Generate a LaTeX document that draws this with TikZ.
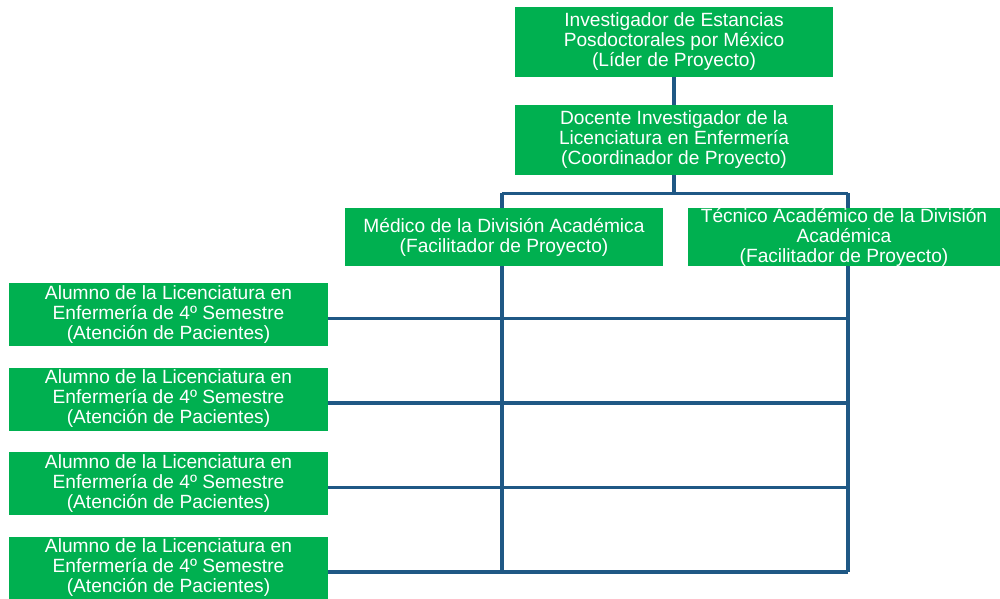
\documentclass[tikz,border=0pt]{standalone}
\usepackage{fontspec}
\setmainfont{Liberation Sans}
\usetikzlibrary{shapes,arrows,positioning,calc,backgrounds}
\definecolor{boxgreen}{RGB}{0,176,80}
\definecolor{linkblue}{RGB}{31,88,133}

\begin{document}
\begin{tikzpicture}[node distance=1.96cm, auto]
    \tikzstyle{role} = [rectangle, fill=boxgreen, text=white, align=center, inner sep=0pt, font=\fontsize{10.9}{11.4}\selectfont]
    \tikzstyle{head} = [role, minimum width=6.37cm, minimum height=1.40cm]
    \tikzstyle{facil} = [role, minimum height=1.16cm]
    \tikzstyle{student} = [role, minimum width=6.38cm, minimum height=1.26cm]
    \tikzstyle{link} = [draw, linkblue, line width=2.1pt]

    \useasboundingbox (0,0) rectangle (20,-11.98);

    % Project leaders
    \node[head] at (13.48,-0.84) (lider) {Investigador de Estancias\\Posdoctorales por México\\(Líder de Proyecto)};
    \node[head, below of=lider] (docente) {Docente Investigador de la\\Licenciatura en Enfermería\\(Coordinador de Proyecto)};

    % Facilitators
    \node[facil, minimum width=6.36cm] at (10.08,-4.74) (medico) {Médico de la División Académica\\(Facilitador de Proyecto)};
    \node[facil, minimum width=6.24cm] at (16.88,-4.74) (tecnico) {Técnico Académico de la División\\Académica\\(Facilitador de Proyecto)};

    % Students
    \node[student] at (3.37,-6.29) (alumno1) {Alumno de la Licenciatura en\\Enfermería de 4º Semestre\\(Atención de Pacientes)};
    \node[student, below of=alumno1, node distance=1.69cm] (alumno2) {Alumno de la Licenciatura en\\Enfermería de 4º Semestre\\(Atención de Pacientes)};
    \node[student, below of=alumno2, node distance=1.69cm] (alumno3) {Alumno de la Licenciatura en\\Enfermería de 4º Semestre\\(Atención de Pacientes)};
    \node[student, below of=alumno3, node distance=1.69cm] (alumno4) {Alumno de la Licenciatura en\\Enfermería de 4º Semestre\\(Atención de Pacientes)};

    % Links
    \begin{scope}[on background layer]
        \draw[link] (lider) -- (docente);
        \coordinate (split) at ($(docente.south)+(0,-0.36)$);
        \draw[link] (docente.south) -- (split);
        \draw[link] ([xshift=-0.04cm]split -| medico) -- ([xshift=0.08cm]split -| tecnico);
        \draw[link] ([xshift=-0.04cm]split -| medico) -- ([xshift=-0.04cm,yshift=-0.08cm]alumno4.east -| medico);
        \draw[link] ([xshift=0.08cm]split -| tecnico) -- ([xshift=0.08cm,yshift=-0.08cm]alumno4.east -| tecnico);
        \foreach \i in {1,...,4}
            \draw[link] ([yshift=-0.08cm]alumno\i.east) -- ([xshift=0.08cm,yshift=-0.08cm]alumno\i.east -| tecnico);
    \end{scope}
\end{tikzpicture}
\end{document}
